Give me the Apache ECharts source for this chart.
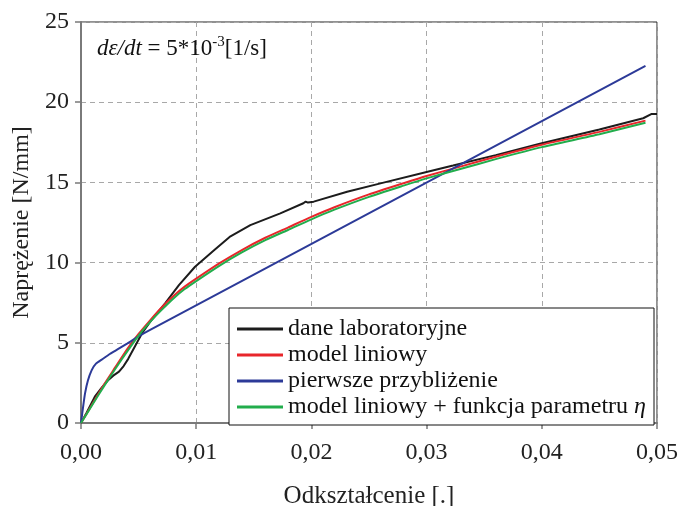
<!DOCTYPE html>
<html>
<head>
<meta charset="utf-8">
<script src="https://cdn.jsdelivr.net/npm/echarts@6/dist/echarts.min.js"></script>
<style>
  html, body { margin: 0; padding: 0; background: #fff; }
  #chart { width: 680px; height: 506px; }
</style>
</head>
<body>
<div id="chart"></div>
<script>
// dane laboratoryjne
var labX = [0, 0.0005, 0.0012, 0.0018, 0.0024, 0.0028, 0.0033, 0.0037, 0.0041, 0.0047, 0.0053, 0.006, 0.0073, 0.0085, 0.0099, 0.0108, 0.0116, 0.0129, 0.0147, 0.0173, 0.0193, 0.0195, 0.0197, 0.0202, 0.0231, 0.026, 0.030, 0.0323, 0.036, 0.040, 0.045, 0.0488, 0.0495, 0.050];
var labY = [0, 0.65, 1.64, 2.2, 2.7, 2.95, 3.2, 3.55, 4.0, 4.8, 5.6, 6.3, 7.46, 8.6, 9.74, 10.3, 10.8, 11.6, 12.34, 13.07, 13.7, 13.8, 13.74, 13.8, 14.42, 14.94, 15.65, 16.05, 16.7, 17.44, 18.3, 19.0, 19.26, 19.26];

// model liniowy
var linX = [0, 0.001, 0.002, 0.003, 0.004, 0.005, 0.006, 0.007, 0.008, 0.009, 0.010, 0.012, 0.014, 0.016, 0.018, 0.020, 0.022, 0.025, 0.028, 0.030, 0.033, 0.036, 0.040, 0.045, 0.049];
var linY = [0, 1.2, 2.4, 3.5, 4.6, 5.55, 6.4, 7.2, 7.9, 8.5, 9.0, 9.95, 10.8, 11.55, 12.2, 12.85, 13.45, 14.25, 14.95, 15.4, 16.0, 16.6, 17.35, 18.15, 18.85];

// pierwsze przybliżenie
var firstX = [0, 0.0002, 0.00035, 0.0006, 0.00093, 0.0013, 0.0018, 0.0025, 0.0032, 0.004, 0.005, 0.006, 0.049];
var firstY = [0, 1.1, 1.85, 2.65, 3.3, 3.7, 3.95, 4.3, 4.6, 4.95, 5.4, 5.8, 22.26];

// model liniowy + funkcja parametru eta
var etaX = [0, 0.001, 0.002, 0.003, 0.004, 0.005, 0.006, 0.007, 0.008, 0.009, 0.010, 0.012, 0.014, 0.016, 0.018, 0.020, 0.022, 0.025, 0.028, 0.030, 0.033, 0.036, 0.040, 0.045, 0.049];
var etaY = [0, 1.15, 2.3, 3.4, 4.45, 5.45, 6.3, 7.05, 7.75, 8.35, 8.85, 9.8, 10.65, 11.4, 12.05, 12.7, 13.3, 14.1, 14.8, 15.25, 15.85, 16.45, 17.2, 18.0, 18.72];

var seriesNames = ['dane laboratoryjne', 'model liniowy', 'pierwsze przybliżenie', 'model liniowy + funkcja parametru η'];
var seriesColors = ['#1c1c1c', '#e8262b', '#2c3a98', '#22ad4c'];

function pairs(xs, ys) {
    return xs.map(function (x, i) { return [x, ys[i]]; });
}

var font = 'Liberation Serif';
var chart = echarts.init(document.getElementById('chart'));

var option = {
    animation: false,
    textStyle: { fontFamily: font },
    title: {
        left: 92,
        top: 30,
        text: '{i|dε/dt}{n| = 5*10}{s|-3}{n|[1/s]}',
        textStyle: {
            fontWeight: 'normal',
            rich: {
                i: { fontFamily: font, fontStyle: 'italic', fontWeight: 'normal', fontSize: 23, color: '#111' },
                n: { fontFamily: font, fontWeight: 'normal', fontSize: 23, color: '#111' },
                s: { fontFamily: font, fontWeight: 'normal', fontSize: 15, color: '#111', verticalAlign: 'top', padding: [0, 0, 13, 0] }
            }
        }
    },
    grid: {
        left: 81, right: 23, top: 22, bottom: 83,
        outerBoundsMode: 'none',
        containLabel: false,
        show: true,
        borderColor: '#222',
        borderWidth: 1
    },
    legend: {
        orient: 'vertical',
        left: 229,
        top: 308,
        padding: [9, 8, 6, 8],
        backgroundColor: '#fff',
        borderColor: '#111',
        borderWidth: 1,
        borderRadius: 0,
        itemWidth: 46,
        itemHeight: 3,
        itemGap: 2,
        icon: 'rect',
        data: seriesNames,
        formatter: function (name) {
            if (name.indexOf('η') >= 0) {
                return '{n|model liniowy + funkcja parametru }{i|η}';
            }
            return '{n|' + name + '}';
        },
        textStyle: {
            fontFamily: font,
            fontSize: 24,
            lineHeight: 20,
            color: '#111',
            rich: {
                n: { fontFamily: font, fontSize: 24, color: '#111', lineHeight: 20 },
                i: { fontFamily: font, fontSize: 24, fontStyle: 'italic', color: '#111', lineHeight: 20 }
            }
        }
    },
    xAxis: {
        type: 'value',
        min: 0,
        max: 0.05,
        interval: 0.01,
        name: 'Odkształcenie [.]',
        nameLocation: 'middle',
        nameGap: 61,
        nameTextStyle: { fontFamily: font, fontSize: 25, color: '#222' },
        axisLine: { show: true, lineStyle: { color: '#7a7a7a', width: 2 } },
        axisTick: { show: true, length: 6, inside: false, lineStyle: { color: '#7a7a7a', width: 1.5 } },
        axisLabel: {
            margin: 18,
            fontFamily: font,
            fontSize: 24,
            color: '#222',
            formatter: function (v) { return v.toFixed(2).replace('.', ','); }
        },
        splitLine: { show: true, lineStyle: { color: '#a8a8a8', type: [5, 4], width: 1 } }
    },
    yAxis: {
        type: 'value',
        min: 0,
        max: 25,
        interval: 5,
        name: 'Naprężenie [N/mm]',
        nameLocation: 'middle',
        nameGap: 47,
        nameTextStyle: { fontFamily: font, fontSize: 24, color: '#222' },
        axisLine: { show: true, lineStyle: { color: '#7a7a7a', width: 2 } },
        axisTick: { show: true, length: 6, inside: false, lineStyle: { color: '#7a7a7a', width: 1.5 } },
        axisLabel: { margin: 12, fontFamily: font, fontSize: 24, color: '#222' },
        splitLine: { show: true, lineStyle: { color: '#a8a8a8', type: [5, 4], width: 1 } }
    },
    series: [
        { name: seriesNames[0], type: 'line', showSymbol: false, data: pairs(labX, labY), color: seriesColors[0], lineStyle: { width: 2 } },
        { name: seriesNames[1], type: 'line', showSymbol: false, data: pairs(linX, linY), color: seriesColors[1], lineStyle: { width: 2 }, smooth: 0.2 },
        { name: seriesNames[2], type: 'line', showSymbol: false, data: pairs(firstX, firstY), color: seriesColors[2], lineStyle: { width: 2 }, smooth: 0.15 },
        { name: seriesNames[3], type: 'line', showSymbol: false, data: pairs(etaX, etaY), color: seriesColors[3], lineStyle: { width: 2 }, smooth: 0.2 }
    ]
};

chart.setOption(option);
</script>
</body>
</html>
